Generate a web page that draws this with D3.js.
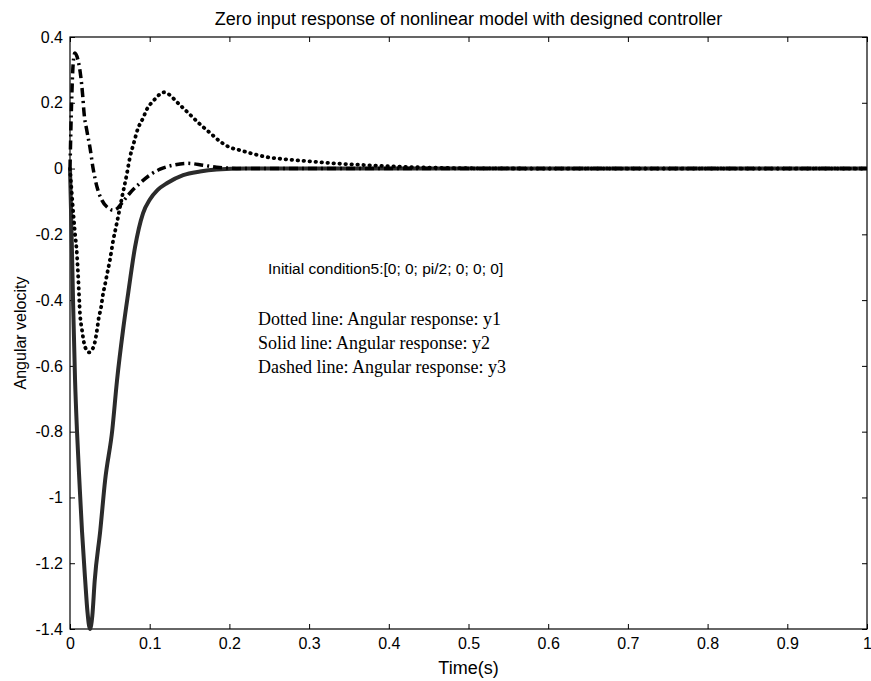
<!DOCTYPE html>
<html>
<head>
<meta charset="utf-8">
<script src="https://cdn.jsdelivr.net/npm/d3@7"></script>
<style>
  body { margin: 0; background: #fff; }
  svg { display: block; }
  .tick text { font-family: "Liberation Sans", Arial, sans-serif; font-size: 16px; fill: #000; }
  .tick line { stroke: #000; }
</style>
</head>
<body>
<div id="chart"></div>
<script>
// values
var xTicks = [0, 0.1, 0.2, 0.3, 0.4, 0.5, 0.6, 0.7, 0.8, 0.9, 1];
var xTickLabels = ["0", "0.1", "0.2", "0.3", "0.4", "0.5", "0.6", "0.7", "0.8", "0.9", "1"];
var yTicks = [0.4, 0.2, 0, -0.2, -0.4, -0.6, -0.8, -1, -1.2, -1.4];
var yTickLabels = ["0.4", "0.2", "0", "-0.2", "-0.4", "-0.6", "-0.8", "-1", "-1.2", "-1.4"];

// y1 : dotted
var t1 = [0, 0.003, 0.006, 0.0088, 0.0105, 0.0125, 0.015, 0.0176, 0.021, 0.024, 0.028, 0.031, 0.034, 0.036, 0.039, 0.041, 0.044, 0.047, 0.050, 0.054, 0.059, 0.065, 0.0715, 0.075, 0.080, 0.085, 0.0916, 0.0966, 0.103, 0.109, 0.113, 0.118, 0.125, 0.133, 0.142, 0.151, 0.163, 0.176, 0.188, 0.2, 0.213, 0.226, 0.247, 0.267, 0.289, 0.31, 0.33, 0.351, 0.393, 0.45, 0.5, 0.6, 1];
var y1 = [0, -0.1, -0.19, -0.264, -0.34, -0.44, -0.49, -0.53, -0.553, -0.559, -0.55, -0.53, -0.489, -0.455, -0.422, -0.388, -0.352, -0.315, -0.279, -0.221, -0.163, -0.09, -0.014, 0.032, 0.077, 0.12, 0.153, 0.181, 0.202, 0.217, 0.227, 0.232, 0.224, 0.205, 0.184, 0.163, 0.135, 0.108, 0.083, 0.065, 0.056, 0.047, 0.035, 0.029, 0.024, 0.02, 0.016, 0.013, 0.008, 0.003, 0.001, 0, 0];

// y2 : solid
var t2 = [0, 0.002, 0.004, 0.0063, 0.0088, 0.012, 0.015, 0.019, 0.022, 0.025, 0.028, 0.031, 0.038, 0.044, 0.053, 0.059, 0.0665, 0.073, 0.0816, 0.0916, 0.1, 0.11, 0.122, 0.142, 0.163, 0.184, 0.22, 0.3, 1];
var y2 = [0, -0.2, -0.42, -0.64, -0.80, -0.96, -1.10, -1.25, -1.35, -1.40, -1.36, -1.253, -1.10, -0.949, -0.796, -0.644, -0.492, -0.379, -0.239, -0.136, -0.095, -0.065, -0.044, -0.02, -0.009, -0.003, 0, 0, 0];

// y3 : dash-dot
var t3 = [0, 0.002, 0.004, 0.006, 0.010, 0.0135, 0.016, 0.0176, 0.021, 0.025, 0.029, 0.034, 0.040, 0.048, 0.054, 0.060, 0.065, 0.075, 0.088, 0.1, 0.113, 0.129, 0.147, 0.167, 0.184, 0.22, 1];
var y3 = [0, 0.2, 0.32, 0.351, 0.33, 0.28, 0.22, 0.17, 0.117, 0.065, 0, -0.057, -0.096, -0.12, -0.127, -0.12, -0.105, -0.075, -0.044, -0.02, -0.002, 0.01, 0.016, 0.01, 0.004, 0, 0];

var margin = {top: 37, right: 4, bottom: 52, left: 70},
    width = 871 - margin.left - margin.right,
    height = 681 - margin.top - margin.bottom;

var svg = d3.select("#chart")
  .append("svg")
    .attr("width", 871)
    .attr("height", 681)
  .append("g")
    .attr("transform", "translate(" + margin.left + "," + margin.top + ")");

var x = d3.scaleLinear().domain([0, 1]).range([0, width]);
var y = d3.scaleLinear().domain([-1.4, 0.4]).range([height, 0]);

// axes, ticks pointing inward
var xAxis = svg.append("g")
  .attr("transform", "translate(0," + height + ")")
  .call(d3.axisBottom(x).tickValues(xTicks)
    .tickFormat(function(d, i) { return xTickLabels[i]; })
    .tickSizeInner(-5).tickSizeOuter(0).tickPadding(9));

var yAxis = svg.append("g")
  .call(d3.axisLeft(y).tickValues(yTicks)
    .tickFormat(function(d, i) { return yTickLabels[i]; })
    .tickSizeInner(-5).tickSizeOuter(0).tickPadding(7));

svg.append("g")
  .call(d3.axisTop(x).tickValues(xTicks).tickFormat("").tickSizeInner(-5).tickSizeOuter(0));

svg.append("g")
  .attr("transform", "translate(" + width + ",0)")
  .call(d3.axisRight(y).tickValues(yTicks).tickFormat("").tickSizeInner(-5).tickSizeOuter(0));

svg.selectAll(".domain").remove();

svg.append("rect")
  .attr("width", width)
  .attr("height", height)
  .attr("fill", "none")
  .attr("stroke", "#000")
  .attr("stroke-width", 1.2);

var line = d3.line()
  .x(function(d) { return x(d[0]); })
  .y(function(d) { return y(d[1]); })
  .curve(d3.curveMonotoneX);

var plot = svg.append("g");

plot.append("path")
  .datum(d3.zip(t2, y2))
  .attr("d", line)
  .attr("fill", "none")
  .attr("stroke", "#2b2b2b")
  .attr("stroke-width", 4);

plot.append("path")
  .datum(d3.zip(t3, y3))
  .attr("d", line)
  .attr("fill", "none")
  .attr("stroke", "#000")
  .attr("stroke-width", 3.5)
  .attr("stroke-dasharray", "9,4,2,4");

plot.append("path")
  .datum(d3.zip(t1, y1))
  .attr("d", line)
  .attr("fill", "none")
  .attr("stroke", "#000")
  .attr("stroke-width", 3.8)
  .attr("stroke-linecap", "round")
  .attr("stroke-dasharray", "0.5,5.5");

// titles
svg.append("text")
  .attr("x", width / 2)
  .attr("y", -12)
  .attr("text-anchor", "middle")
  .style("font-family", "Liberation Sans, Arial, sans-serif")
  .style("font-size", "18px")
  .text("Zero input response of nonlinear model with designed controller");

svg.append("text")
  .attr("x", x(0.5))
  .attr("y", height + 45)
  .attr("text-anchor", "middle")
  .style("font-family", "Liberation Sans, Arial, sans-serif")
  .style("font-size", "18px")
  .text("Time(s)");

svg.append("text")
  .attr("transform", "translate(-44," + (height / 2) + ") rotate(-90)")
  .attr("text-anchor", "middle")
  .style("font-family", "Liberation Sans, Arial, sans-serif")
  .style("font-size", "16px")
  .text("Angular velocity");

// annotations
svg.append("text")
  .attr("x", 198)
  .attr("y", 237)
  .style("font-family", "Liberation Sans, Arial, sans-serif")
  .style("font-size", "15.5px")
  .text("Initial condition5:[0; 0; pi/2; 0; 0; 0]");

var notes = ["Dotted line: Angular response: y1",
             "Solid line: Angular response: y2",
             "Dashed line: Angular response: y3"];

svg.selectAll(".note")
  .data(notes)
  .enter()
  .append("text")
    .attr("class", "note")
    .attr("x", 188)
    .attr("y", function(d, i) { return 288 + i * 24; })
    .style("font-family", "Liberation Serif, Times New Roman, serif")
    .style("font-size", "18px")
    .text(function(d) { return d; });
</script>
</body>
</html>
